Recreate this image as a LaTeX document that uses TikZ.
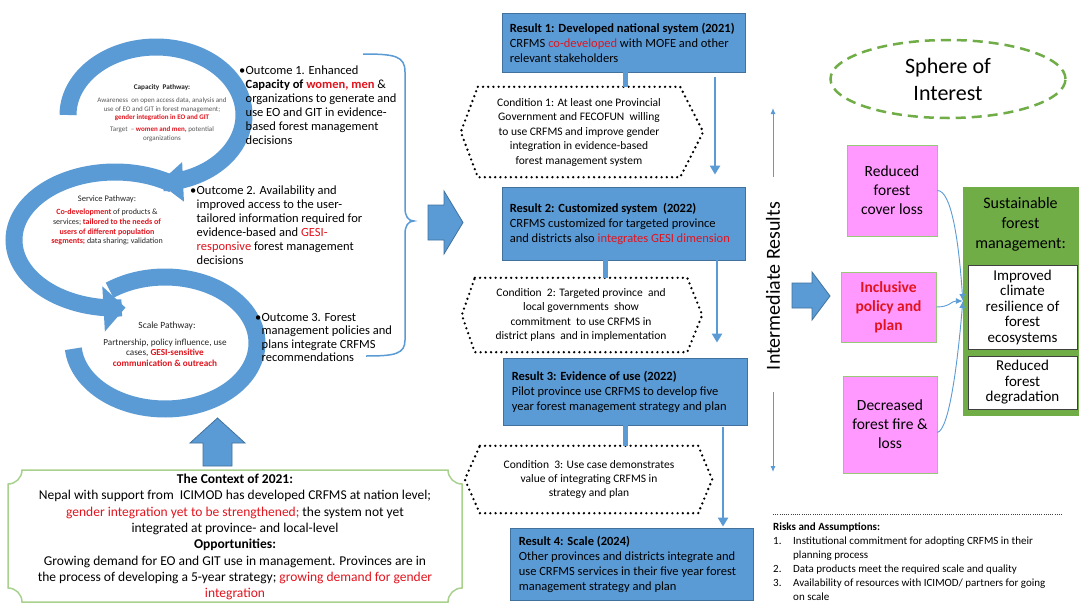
\documentclass[tikz,border=0pt]{standalone}
\usepackage{fontspec}
\setmainfont{Carlito}
\usetikzlibrary{arrows.meta,shapes.geometric}
\definecolor{blueF}{RGB}{91,155,213}
\definecolor{blueD}{RGB}{65,113,156}
\definecolor{redT}{RGB}{225,20,30}
\definecolor{pinkF}{RGB}{255,153,255}
\definecolor{pinkD}{RGB}{150,200,120}
\definecolor{greenF}{RGB}{112,173,71}
\definecolor{greenL}{RGB}{169,209,142}
\definecolor{capgray}{RGB}{89,89,89}
\newcommand{\rt}[1]{\textcolor{redT}{#1}}
\newcommand{\rb}[1]{\textcolor{redT}{\bfseries #1}}
\begin{document}
\begin{tikzpicture}[x=1pt,y=-1pt,
  ft/.style 2 args={font=\fontsize{#1}{#2}\selectfont},
  txt/.style={inner sep=0pt, align=left},
  ring/.style={draw=blueF, line width=17pt},
  blk/.style={fill=blueF, draw=blueD, line width=0.8pt},
  resbox/.style={draw=blueD, fill=blueF, line width=0.8pt, inner sep=0pt, minimum width=243pt},
  restext/.style={inner sep=0pt, align=left, anchor=west, ft={12.5}{15}},
  cond/.style={inner sep=0pt, align=center, ft={11.5}{14.5}},
  hexd/.style={draw=black, line width=2.6pt, dash pattern=on 0pt off 5.2pt, line cap=round},
  stub/.style={draw=blueF, line width=5pt},
  resarrow/.style={draw=blueF, line width=2.5pt, -{Triangle[width=10pt,length=9pt]}},
  thinarr/.style={draw=blueF, line width=1pt, -{Latex[length=6pt,width=5pt]}},
  pink/.style={draw=pinkD, fill=pinkF, line width=0.8pt, align=center, inner sep=0pt, ft={15.5}{19}},
  ibox/.style={draw=black!75, fill=white, line width=1pt, align=center, inner sep=0pt, ft={15}{15.5}},
  conn/.style={draw=blueF, line width=0.9pt, -{Latex[length=7pt,width=6pt]}}
]
\fill[white] (0,0) rectangle (1084,605);
\useasboundingbox (0,0) rectangle (1084,605);

% ---------- pathway rings ----------
\draw[ring] plot[domain=-127:175,samples=100,variable=\t] ({165+92*cos(\t)},{343+66*sin(\t)});
\draw[ring,-{Triangle[width=44pt,length=22pt]}] plot[domain=0:221,samples=100,variable=\t] ({115+101*cos(-55-\t)},{240+68*sin(-55-\t)});
\draw[ring,-{Triangle[width=38pt,length=24pt]}] plot[domain=180:448,samples=100,variable=\t] ({156+88*cos(\t)},{115+68*sin(\t)});

% capacity text (multi-line nodes: base = last line baseline)
\node[txt, ft={7.2}{8.6}, anchor=base, text=black!85] (capt) at (162,89.5) {\textbf{Capacity\ \ Pathway:}};
\node[txt, align=center, ft={7}{8.6}, anchor=base, text=capgray] (capb) at (162,119.7) {Awareness\ \ on open access data, analysis and\\use of EO and GIT in forest management;\\\rb{gender integration in EO and GIT}};
\node[txt, align=center, ft={7}{8.8}, anchor=base, text=capgray] (capc) at (162,140.3) {Target\ \ -- \rb{women and men,} potential\\organizations};

% service text
\node[txt, ft={8.5}{9.7}, anchor=base, text=black!85] (svt) at (107,201) {Service Pathway:};
\node[txt, align=center, ft={8}{9.7}, anchor=base, text=black!85] (svb) at (107,243.8) {\rb{Co-development} of products \&\\services; \rb{tailored to the needs of}\\\rb{users of different population}\\\rb{segments;} data sharing; validation};

% scale text
\node[txt, ft={9.5}{11}, anchor=base, text=black!85] (sct) at (167,328.5) {Scale Pathway:};
\node[txt, align=center, ft={9.2}{10.6}, anchor=base, text=black!85] (scb) at (165,366.5) {Partnership, policy influence, use\\cases, \rb{GESI-sensitive}\\\rb{communication \& outreach}};

% ---------- outcomes ----------
\node[txt, ft={12.5}{14}, anchor=base west] (b1) at (239,74) {•};
\node[txt, ft={12.5}{14}, anchor=base west] (o1) at (245.5,144) {Outcome 1. Enhanced\\\textbf{Capacity of} \rb{women, men} \&\\organizations to generate and\\use EO and GIT in evidence-\\based forest management\\decisions};
\node[txt, ft={12.5}{14}, anchor=base west] (b2) at (190,194) {•};
\node[txt, ft={12.5}{14}, anchor=base west] (o2) at (196.5,264) {Outcome 2. Availability and\\improved access to the user-\\tailored information required for\\evidence-based and \rt{GESI-}\\\rt{responsive} forest management\\decisions};
\node[txt, ft={12.5}{13.5}, anchor=base west] (b3) at (255,321) {•};
\node[txt, ft={12.5}{13.5}, anchor=base west] (o3) at (261.5,361.5) {Outcome 3. Forest\\management policies and\\plans integrate CRFMS\\recommendations};

% brace
\draw[blueF, line width=1.5pt] (363,54) .. controls (395,54) and (405,56) .. (405,72) -- (405,208) .. controls (405,216) and (408,221) .. (414,221) .. controls (408,221) and (405,226) .. (405,234) -- (405,340) .. controls (405,354) and (395,356) .. (366,356);

% block arrows
\draw[blk] (428,205) -- (444,205) -- (444,191) -- (463,222.5) -- (444,254) -- (444,240) -- (428,240) -- cycle;
\draw[blk] (203,466) -- (203,443) -- (190,443) -- (217.5,418) -- (245,443) -- (232,443) -- (232,466) -- cycle;
\draw[blk] (792,283) -- (812,283) -- (812,272) -- (830,296) -- (812,320) -- (812,308) -- (792,308) -- cycle;

% ---------- context ----------
\draw[greenL, line width=1.5pt] (22,470) -- (448,470) .. controls (448,477.7) and (454.3,484) .. (462,484) -- (462,588) .. controls (454.3,588) and (448,594.3) .. (448,602) -- (22,602) .. controls (22,594.3) and (15.7,588) .. (8,588) -- (8,484) .. controls (15.7,484) and (22,477.7) .. (22,470) -- cycle;
\node[txt, align=center, ft={13.5}{16.3}, anchor=base] (ctx) at (235,597.6) {\textbf{The Context of 2021:}\\Nepal with support from\ \ ICIMOD has developed\ CRFMS at nation\ level;\\\rt{gender integration yet to be strengthened;} the system not yet\\integrated at province- and local-level\\\textbf{Opportunities:}\\Growing demand for EO and GIT use in management. Provinces are in\\the process of developing a 5-year strategy; \rt{growing demand for gender}\\\rt{integration}};

% ---------- results ----------
\node[resbox, minimum height=59pt] (r1) at (623.5,42.5) {};
\node[restext] (r1t) at ([xshift=8pt]r1.west) {\textbf{Result 1: Developed national system (2021)}\\CRFMS \rt{co-developed} with MOFE and other\\relevant stakeholders};
\node[resbox, minimum height=73pt] (r2) at (623.5,223.5) {};
\node[restext] (r2t) at ([xshift=8pt]r2.west) {\textbf{Result 2: Customized system\ \ (2022)}\\CRFMS customized for targeted province\\and districts also \rt{integrates GESI dimension}};
\node[resbox, minimum width=244pt, minimum height=67pt] (r3) at (625,391.5) {};
\node[restext] (r3t) at ([xshift=9pt]r3.west) {\textbf{Result 3: Evidence of use (2022)}\\Pilot province use CRFMS to develop five\\year forest management strategy and plan};
\node[resbox, minimum height=72pt] (r4) at (631.5,564) {};
\node[restext] (r4t) at ([xshift=9pt]r4.west) {\textbf{Result 4: Scale (2024)}\\Other provinces and districts integrate and\\use CRFMS services in their five year forest\\management strategy and plan};

% conditions
\node[cond, minimum width=202pt, minimum height=90pt] (c1) at (579,132) {Condition 1: At least one Provincial\\Government and FECOFUN\ \ willing\\to use CRFMS and improve gender\\integration in evidence-based\\forest management system};
\draw[hexd] (c1.north west) -- (c1.north east) -- ([xshift=23pt]c1.east) -- (c1.south east) -- (c1.south west) -- ([xshift=-17pt]c1.west) -- cycle;
\node[cond, ft={11.5}{14.3}, minimum width=212pt, minimum height=74pt] (c2) at (581,315) {Condition\ \ 2: Targeted province\ \ and\\local governments\ \ show\\commitment\ \ to use CRFMS in\\district plans\ \ and in implementation};
\draw[hexd] (c2.north west) -- (c2.north east) -- ([xshift=15pt]c2.east) -- (c2.south east) -- (c2.south west) -- ([xshift=-13pt]c2.west) -- cycle;
\node[cond, ft={11.5}{13.6}, minimum width=218pt, minimum height=67pt] (c3) at (589,479.5) {Condition\ \ 3: Use case demonstrates\\value of integrating CRFMS in\\strategy and plan};
\draw[hexd] (c3.north west) -- (c3.north east) -- ([xshift=14pt]c3.east) -- (c3.south east) -- (c3.south west) -- ([xshift=-15pt]c3.west) -- cycle;

% stubs and arrows
\coordinate (s1) at (625,0);
\coordinate (s2) at (605,0);
\coordinate (a1) at (715,0);
\coordinate (a2) at (717,0);
\coordinate (a3) at (723,0);
\draw[stub] (r1.south -| s1) -- (c1.north -| s1);
\draw[stub] (r2.south -| s2) -- (c2.north -| s2);
\draw[stub] (r3.south -| s1) -- (c3.north -| s1);
\draw[resarrow, shorten <=5pt, shorten >=12pt] (r1.south -| a1) -- (r2.north -| a1);
\draw[resarrow, shorten >=15pt] (r2.south -| a2) -- (r3.north -| a2);
\draw[resarrow, shorten <=2pt, shorten >=1pt] (r3.south -| a3) -- (r4.north -| a3);

% ---------- intermediate results ----------
\node[rotate=90, ft={20}{24}, inner sep=0pt] (ir) at (773,286) {Intermediate Results};
\coordinate (ia0) at (773,177);
\coordinate (ia1) at (773,108);
\coordinate (ib0) at (773,392);
\coordinate (ib1) at (773,472);
\draw[thinarr] (ia0) -- (ia1);
\draw[thinarr] (ib0) -- (ib1);

% sphere of interest
\node[draw=greenF, dash pattern=on 10pt off 6pt, line width=2.5pt, ellipse, minimum width=235pt, minimum height=78pt, inner sep=0pt, align=center, ft={22}{27}] (soi) at (948,79) {Sphere of\\Interest};

% pink boxes
\node[pink, minimum width=90pt, minimum height=91pt] (p1) at (892,190.5) {Reduced\\forest\\cover loss};
\node[pink, minimum width=95pt, minimum height=70pt, text=redT, font=\fontsize{15.5}{19}\selectfont\bfseries] (p2) at (888.5,307) {Inclusive\\policy and\\plan};
\node[pink, minimum width=94pt, minimum height=97pt] (p3) at (890,424.5) {Decreased\\forest fire \&\\loss};

% green box
\node[draw=greenF, fill=greenF, minimum width=115pt, minimum height=228pt, inner sep=0pt] (sfm) at (1020.5,301) {};
\node[txt, align=center, ft={16}{20}, anchor=base] (sfmt) at (1020.5,248.3) {Sustainable\\forest\\management:};
\node[ibox, minimum width=109pt, minimum height=84pt] (g1) at (1022.5,307) {Improved\\climate\\resilience of\\forest\\ecosystems};
\node[ibox, minimum width=109pt, minimum height=53pt] (g2) at (1022.5,382.5) {Reduced\\forest\\degradation};

% connectors pink -> green
\draw[conn] (p1.east) .. controls +(14,0) and +(-4,-60) .. (sfm.west);
\draw[conn] (p2.east) .. controls +(14,0) and +(-12,0) .. (sfm.west);
\draw[conn] ([yshift=-8pt]p3.east) .. controls +(12,-3) and +(-5,60) .. (sfm.west);

% ---------- risks ----------
\coordinate (rk0) at (773,514);
\coordinate (rk1) at (1062,514);
\draw[black!75, line width=0.9pt, dash pattern=on 0.9pt off 1.3pt] (rk0) -- (rk1);
\node[txt, ft={11}{14}, anchor=base west] (rkt) at (773,530.5) {\textbf{Risks and Assumptions:}};
\node[txt, ft={11}{14}, anchor=base west] (rkn) at (773,586.8) {1.\\\mbox{}\\2.\\3.};
\node[txt, ft={11}{14}, anchor=base west] (rkl) at (793,600.8) {Institutional commitment for adopting CRFMS in their\\planning process\\Data products meet the required scale and quality\\Availability of resources with ICIMOD/ partners for going\\on scale};
\end{tikzpicture}
\end{document}
